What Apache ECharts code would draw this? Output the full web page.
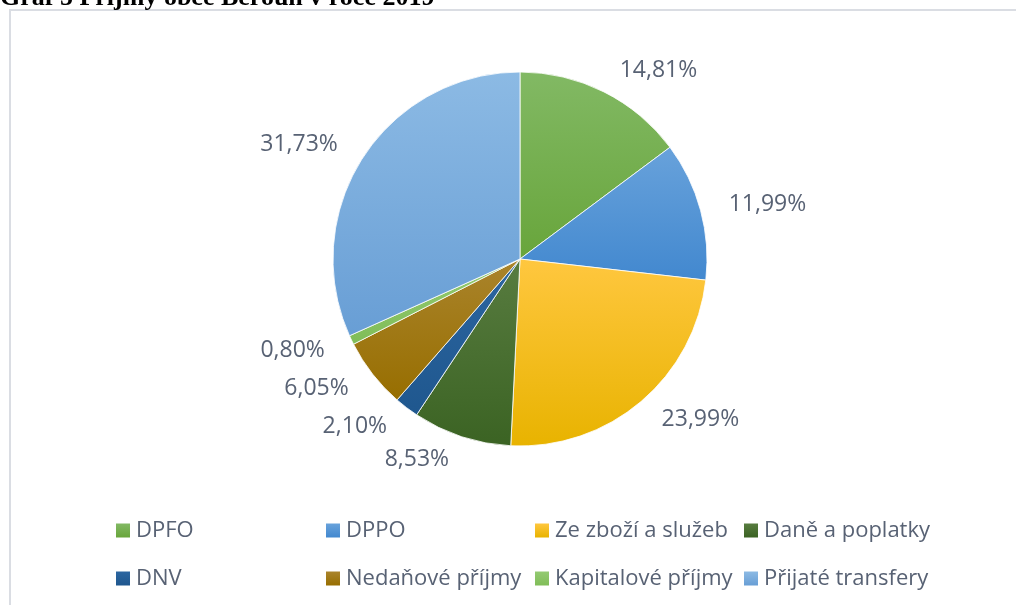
<!DOCTYPE html>
<html>
<head>
<meta charset="utf-8">
<script src="https://cdn.jsdelivr.net/npm/echarts@6/dist/echarts.min.js"></script>
<style>
  html, body { margin: 0; padding: 0; background: #ffffff; }
  #chart { width: 1016px; height: 605px; }
</style>
</head>
<body>
<div id="chart"></div>
<script>
// Příjmy obce Beroun v roce 2019 – podíly jednotlivých skupin příjmů (%)
const categories = ['DPFO', 'DPPO', 'Ze zboží a služeb', 'Daně a poplatky', 'DNV', 'Nedaňové příjmy', 'Kapitalové příjmy', 'Přijaté transfery'];
const shares = [14.81, 11.99, 23.99, 8.53, 2.10, 6.05, 0.80, 31.73];

// slice fills: light shade at the top, darker at the bottom
const topColors = ['#82b964', '#68a2db', '#ffc73f', '#587c40', '#2c66a1', '#aa842c', '#94ca72', '#8cbae4'];
const bottomColors = ['#68a53b', '#4288cf', '#e8b300', '#3b6323', '#1f578e', '#976e00', '#80bd58', '#689ed5'];

// legend columns: [first row, second row]
const legendColumns = [
  ['DPFO', 'DNV'],
  ['DPPO', 'Nedaňové příjmy'],
  ['Ze zboží a služeb', 'Kapitalové příjmy'],
  ['Daně a poplatky', 'Přijaté transfery']
];
const legendLefts = [111, 321, 530, 739];

const textColor = '#586274';
const fontFamily = 'Open Sans, Noto Sans, sans-serif';

function gradient(i) {
  return new echarts.graphic.LinearGradient(0, 0, 0, 1, [
    { offset: 0, color: topColors[i] },
    { offset: 1, color: bottomColors[i] }
  ]);
}

const pieData = categories.map((name, i) => ({
  name: name,
  value: shares[i],
  itemStyle: { color: gradient(i) }
}));

const chart = echarts.init(document.getElementById('chart'), null, { renderer: 'canvas' });

chart.setOption({
  animation: false,
  backgroundColor: '#ffffff',
  graphic: [
    {
      type: 'polyline',
      shape: { points: [[10, 700], [10, 10], [1030, 10]] },
      style: { stroke: '#dadde3', lineWidth: 2, fill: null },
      silent: true
    },
    {
      type: 'text',
      left: 0,
      top: -15,
      style: {
        text: 'Graf 5 Příjmy obce Beroun v roce 2019',
        font: 'bold 26px "Liberation Serif", "Times New Roman", serif',
        fill: '#000000'
      },
      silent: true
    }
  ],
  legend: legendColumns.map((names, k) => ({
    orient: 'vertical',
    left: legendLefts[k],
    top: 513,
    data: names,
    icon: 'rect',
    itemWidth: 14,
    itemHeight: 14,
    itemGap: 23,
    selectedMode: false,
    itemStyle: { borderWidth: 0, borderColor: 'transparent' },
    textStyle: {
      color: textColor,
      fontFamily: fontFamily,
      fontSize: 22,
      lineHeight: 25,
      padding: [0, 0, 0, 1]
    }
  })),
  series: [
    {
      type: 'pie',
      center: [520, 259],
      radius: 187,
      startAngle: 90,
      clockwise: true,
      avoidLabelOverlap: true,
      data: pieData,
      itemStyle: { borderColor: '#ffffff', borderWidth: 0.8 },
      label: {
        show: true,
        position: 'outside',
        color: textColor,
        fontFamily: fontFamily,
        fontSize: 23,
        formatter: p => p.value.toFixed(2).replace('.', ',') + '%'
      },
      labelLine: { show: false, length: 24, length2: 0 },
      emphasis: { disabled: true }
    }
  ]
});
</script>
</body>
</html>
